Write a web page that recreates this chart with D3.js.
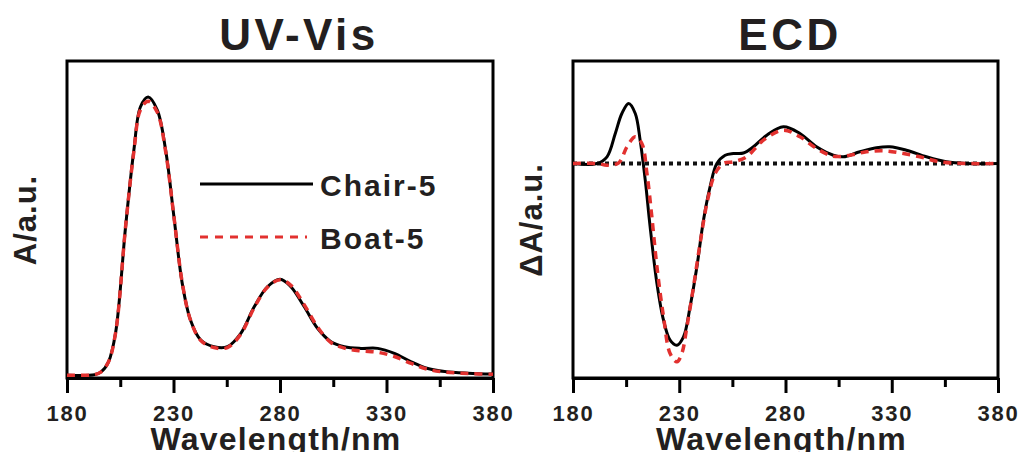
<!DOCTYPE html>
<html>
<head>
<meta charset="utf-8">
<script src="https://cdn.jsdelivr.net/npm/d3@7"></script>
<style>
  body { margin: 0; background: #fff; }
  svg { font-family: "Liberation Sans", Arial, sans-serif; font-weight: bold; }
</style>
</head>
<body>
<svg id="chart" width="1019" height="452"></svg>
<script>
// UV-Vis data (arbitrary units, peak = 1)
const uvNm = [180,193,196,199.5,202.8,207.5,211.4,214.5,218.1,222.4,226.3,230.2,234.1,238,242.8,249,255.3,261.6,267.9,274.1,280.1,285.1,291.4,297.6,303.9,310.2,318,325.9,333.7,341.6,349.4,357.3,368.3,380]
const uvChair = [0.003,0.005,0.015,0.051,0.154,0.535,0.81,0.965,1.0,0.953,0.81,0.571,0.332,0.2,0.129,0.105,0.105,0.153,0.248,0.32,0.347,0.32,0.248,0.171,0.123,0.105,0.099,0.099,0.081,0.051,0.027,0.016,0.01,0.007]
const uvBoat = [0.003,0.005,0.015,0.051,0.154,0.535,0.805,0.955,0.985,0.945,0.805,0.571,0.335,0.2,0.127,0.102,0.102,0.15,0.245,0.318,0.345,0.325,0.255,0.176,0.12,0.1,0.09,0.085,0.07,0.045,0.024,0.014,0.009,0.006]

// ECD data
const ecdChairNm = [180,191.3,196,199.9,203,206.2,209.3,211.6,214,216.3,219.5,222.6,225.7,228.9,232,235.1,238.3,241.4,244.5,247.7,251.6,255.5,260.2,264.9,271.2,279,286.8,294.6,302.5,307.2,315,322.8,329.1,336.9,346.3,355.7,365.1,380]
const ecdChair = [0,0,0.067,0.3,0.5,0.6,0.5,0.233,-0.167,-0.633,-1.2,-1.567,-1.767,-1.817,-1.733,-1.433,-1.033,-0.567,-0.233,0,0.083,0.1,0.105,0.167,0.283,0.367,0.3,0.167,0.083,0.067,0.117,0.157,0.167,0.133,0.067,0.017,0,0]
const ecdBoatNm = [180,191.3,196,201.5,205.4,209.3,212.4,214.8,217.1,219.5,222.6,225.7,228.9,231.2,233.6,236.7,239.8,243,246.9,250.8,255.5,261.7,269.6,279,286.8,294.6,302.5,310.3,318.1,326,333.8,343.2,352.6,365,380]
const ecdBoat = [0,0,-0.017,0.007,0.167,0.267,0.2,-0.1,-0.533,-1.033,-1.533,-1.9,-1.983,-1.9,-1.633,-1.233,-0.8,-0.4,-0.1,0,0.017,0.067,0.233,0.333,0.267,0.15,0.073,0.083,0.117,0.127,0.107,0.067,0.017,0,0]

const majorTicks = [180, 230, 280, 330, 380]
const minorTicks = [205, 255, 305, 355]
const legendLabels = ["Chair-5", "Boat-5"]

const BLACK = "#000"
const RED = "#e2312f"
const TEXT = "#231f20"
const TOP = 61
const BOTTOM = 378

const svg = d3.select("#chart")

function drawPanel(left, right, title, titleX, yLabel, yLabelX, yScale, series, beforeCurves) {
    const x = d3.scaleLinear().domain([180, 380]).range([left, right])
    const g = svg.append("g")

    // frame
    g.append("rect")
        .attr("x", left).attr("y", TOP)
        .attr("width", right - left).attr("height", BOTTOM - TOP)
        .attr("fill", "none").attr("stroke", BLACK).attr("stroke-width", 3)

    // minor ticks
    g.append("g")
        .attr("transform", `translate(0, ${BOTTOM})`)
        .call(d3.axisBottom(x).tickValues(minorTicks).tickSize(9).tickFormat(""))
        .call(a => a.select(".domain").remove())
        .selectAll("line").attr("stroke", BLACK).attr("stroke-width", 3)

    // major ticks + labels
    const ax = g.append("g")
        .attr("transform", `translate(0, ${BOTTOM})`)
        .call(d3.axisBottom(x).tickValues(majorTicks).tickSize(15).tickPadding(12).tickSizeOuter(0).tickFormat(d3.format("d")))
    ax.select(".domain").attr("stroke", BLACK).attr("stroke-width", 3)
    ax.selectAll("line").attr("stroke", BLACK).attr("stroke-width", 3)
    ax.selectAll("text")
        .attr("fill", TEXT)
        .style("font-size", "22px")
        .style("font-weight", "bold")
        .style("letter-spacing", "1.8px")
        .style("font-family", '"Liberation Sans", Arial, sans-serif')

    // titles
    g.append("text")
        .attr("x", titleX).attr("y", 50)
        .attr("text-anchor", "middle")
        .attr("fill", TEXT)
        .style("font-size", "44px")
        .style("letter-spacing", "3.5px")
        .text(title)

    g.append("text")
        .attr("x", (left + right) / 2 - 4).attr("y", 450)
        .attr("text-anchor", "middle")
        .attr("fill", TEXT)
        .style("font-size", "32px")
        .style("letter-spacing", "1.2px")
        .text("Wavelength/nm")

    g.append("text")
        .attr("transform", `translate(${yLabelX}, 220) rotate(-90)`)
        .attr("text-anchor", "middle")
        .attr("fill", TEXT)
        .style("font-size", "31px")
        .style("letter-spacing", "1px")
        .text(yLabel)

    if (beforeCurves) beforeCurves(g, x)

    // curves
    for (const s of series) {
        const line = d3.line()
            .x((d, i) => x(s.nm[i]))
            .y(d => yScale(d))
            .curve(d3.curveCatmullRom.alpha(0.5))
        g.append("path")
            .datum(s.values)
            .attr("d", line)
            .attr("fill", "none")
            .attr("stroke", s.color)
            .attr("stroke-width", s.width)
            .attr("stroke-dasharray", s.dash)
            .attr("stroke-linejoin", "round")
    }
    return {x, g}
}

// UV-Vis panel
const yUv = d3.scaleLinear().domain([0, 1]).range([376, 97])
const uv = drawPanel(67, 493, "UV-Vis", 299, "A/a.u.", 36, yUv, [
    {nm: uvNm, values: uvChair, color: BLACK, width: 3, dash: null},
    {nm: uvNm, values: uvBoat, color: RED, width: 3.5, dash: "8,6"}
])

// legend
const legendY = [184, 237]
legendLabels.forEach((label, i) => {
    uv.g.append("line")
        .attr("x1", 200).attr("x2", i === 0 ? 313 : 307)
        .attr("y1", legendY[i]).attr("y2", legendY[i])
        .attr("stroke", i === 0 ? BLACK : RED)
        .attr("stroke-width", 3)
        .attr("stroke-dasharray", i === 0 ? null : "8,7")
    uv.g.append("text")
        .attr("x", 320).attr("y", legendY[i] + 12)
        .attr("fill", TEXT)
        .style("font-size", "30px")
        .style("letter-spacing", "2px")
        .text(label)
})

// ECD panel, dotted zero line under the curves
const yEcd = d3.scaleLinear().domain([0, -1]).range([163.5, 263.5])
drawPanel(573, 998, "ECD", 790, "\u0394A/a.u.", 542, yEcd, [
    {nm: ecdChairNm, values: ecdChair, color: BLACK, width: 3, dash: null},
    {nm: ecdBoatNm, values: ecdBoat, color: RED, width: 3.5, dash: "8,6"}
], (g, x) => {
    g.append("line")
        .attr("x1", x(180)).attr("x2", x(376))
        .attr("y1", yEcd(0)).attr("y2", yEcd(0))
        .attr("stroke", "#111")
        .attr("stroke-width", 4)
        .attr("stroke-dasharray", "4,4")
})
</script>
</body>
</html>
